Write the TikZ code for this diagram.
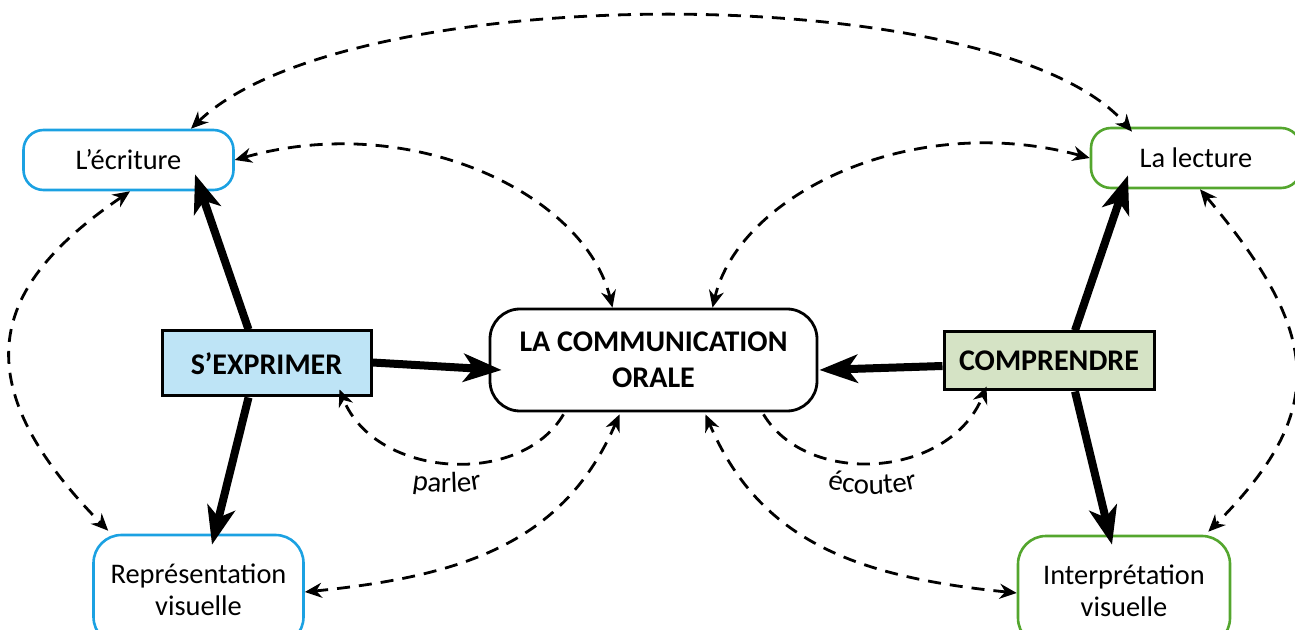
\documentclass[tikz,border=0pt]{standalone}
\usepackage{fontspec}
\setmainfont{Carlito}
\usetikzlibrary{arrows.meta,calc,decorations.text}
\definecolor{bblue}{RGB}{27,161,226}
\definecolor{bgreen}{RGB}{84,166,46}
\definecolor{fblue}{RGB}{190,228,246}
\definecolor{fgreen}{RGB}{213,227,197}
\newcommand\lblfont{\fontsize{14.5}{17}\selectfont}
\begin{document}
\begin{tikzpicture}[x=0.5pt,y=-0.5pt,
 soft/.style={draw, rounded corners=10pt, line width=1.3pt, minimum height=30pt, minimum width=105pt, inner sep=0pt, align=center, font=\fontsize{14.2}{16}\selectfont},
 blueb/.style={soft, draw=bblue},
 greenb/.style={soft, draw=bgreen},
 actbox/.style={draw=black, line width=1.5pt, minimum width=104.5pt, inner sep=0pt, font=\bfseries\fontsize{15}{18}\selectfont},
 mainbox/.style={draw, line width=1.4pt, rounded corners=15pt, minimum width=163.5pt, minimum height=51pt, inner sep=0pt, align=center, font=\bfseries\fontsize{15}{18}\selectfont},
 big/.style={line width=4pt, -{Stealth[length=19pt,width=14pt,inset=5pt]}},
 link/.style={line width=1.4pt, dash pattern=on 6.5pt off 4.5pt, {Stealth[length=8.5pt,width=7.5pt]}-{Stealth[length=8.5pt,width=7.5pt]}},
 linkone/.style={line width=1.4pt, dash pattern=on 6.5pt off 4.5pt, -{Stealth[length=8.5pt,width=7.5pt]}},
]
\useasboundingbox (0,0) rectangle (1295,630);

\node[blueb] (ecr) at (128.5,160) {L’écriture};
\node[greenb] (lec) at (1196,158) {La lecture};
\node[actbox, fill=fblue, minimum height=32.5pt] (sexp) at (266.5,363.5) {S’EXPRIMER};
\node[actbox, fill=fgreen, minimum height=29pt, minimum width=105pt] (comp) at (1049,361) {COMPRENDRE};
\node[mainbox] (com) at (653.5,360) {LA COMMUNICATION\\ORALE};
\node[blueb, minimum height=55pt, rounded corners=14pt] (rep) at (198.5,590) {Représentation\\visuelle};
\node[greenb, minimum height=55pt, minimum width=106pt, rounded corners=14pt] (int) at (1124,591) {Interprétation\\visuelle};

% thick arrows
\draw[big] ($(sexp.north)+(-18,0)$) -- ($(ecr.south)+(66.5,-17)$);
\draw[big] ($(sexp.south)+(-18,0)$) -- ($(rep.north)+(13.5,11)$);
\draw[big] ($(sexp.east)+(0,-1)$) -- ($(com.west)+(13,10)$);
\draw[big] ($(comp.west)+(0,5)$) -- ($(com.east)+(1,10)$);
\draw[big] ($(comp.north)+(26,0)$) -- ($(lec.south)+(-68,-14)$);
\draw[big] ($(comp.south)+(26,0)$) -- ($(int.north)+(-12,10)$);

% dashed links
\draw[link] ($(ecr.north)+(62.5,0)$) .. controls (347,-22) and (1000,-22) .. ($(lec.north)+(-64,5)$);
\draw[link] (ecr.east) .. controls (413,110) and (585,195) .. ($(com.north)+(-41,0)$);
\draw[link] (lec.west) .. controls (911,110) and (739,195) .. ($(com.north)+(59,0)$);
\draw[link] ($(ecr.south)+(1.5,0)$) .. controls (0,280) and (-47,373) .. ($(rep.north west)+(16,-3)$);
\draw[link] ($(lec.south)+(4,0)$) .. controls (1322,334) and (1329,411) .. ($(int.north east)+(-23,-3)$);
\draw[link] ($(rep.east)+(0,2)$) .. controls (465,576) and (564,542) .. ($(com.south)+(-34,2)$);
\draw[link] ($(int.west)+(0,2)$) .. controls (858,577) and (760,542) .. ($(com.south)+(52,2)$);
\draw[linkone] ($(com.south)+(-90,2)$) .. controls (520,488) and (375,478) .. ($(sexp.south east)+(-33,-8)$);
\draw[linkone] ($(com.south)+(110,2)$) .. controls (808,488) and (950,478) .. ($(comp.south west)+(44,-5)$);

% curved labels
\path[decorate, decoration={text along path, text={|\lblfont|parler}, text align=center}]
  (392,484) .. controls (425,495) and (470,495) .. (502,484);
\path[decorate, decoration={text along path, text={|\lblfont|écouter}, text align=center}]
  (815,485) .. controls (850,497) and (895,497) .. (930,485);
\end{tikzpicture}
\end{document}
